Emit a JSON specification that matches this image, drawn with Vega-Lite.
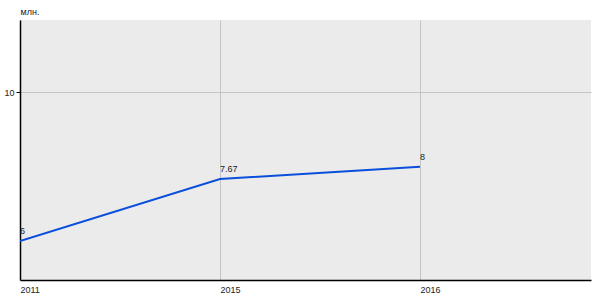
{
  "$schema": "https://vega.github.io/schema/vega-lite/v6.json",
  "width": 571,
  "height": 260,
  "autosize": {"type": "none"},
  "padding": {"left": 20, "top": 20, "right": 9, "bottom": 20},
  "background": "white",
  "config": {
    "font": "Liberation Sans",
    "view": {"fill": "#ebebeb", "stroke": null}
  },
  "data": {
    "values": [
      {"year": "2011", "value": 6, "label": "6"},
      {"year": "2015", "value": 7.67, "label": "7.67"},
      {"year": "2016", "value": 8, "label": "8"}
    ]
  },
  "encoding": {
    "x": {
      "field": "year",
      "type": "ordinal",
      "scale": {"type": "point", "padding": 0.4275, "align": 0},
      "axis": {
        "title": null,
        "labelAngle": 0,
        "labelAlign": "left",
        "labelFontSize": 9,
        "labelColor": "#222",
        "labelPadding": 5,
        "ticks": false,
        "grid": true,
        "gridColor": "#c4c4c4",
        "domainColor": "#000",
        "domainWidth": 1.5
      }
    },
    "y": {
      "field": "value",
      "type": "quantitative",
      "scale": {"domain": [4.95, 11.95], "nice": false, "zero": false},
      "axis": {
        "values": [10],
        "title": "млн.",
        "titleAngle": 0,
        "titleAlign": "left",
        "titleBaseline": "bottom",
        "titleX": 0,
        "titleY": -4,
        "titleFontSize": 9,
        "titleFontWeight": "normal",
        "titleColor": "#222",
        "labelFontSize": 9,
        "labelColor": "#222",
        "labelPadding": 2,
        "tickSize": 4,
        "tickColor": "#000",
        "grid": true,
        "gridColor": "#c4c4c4",
        "domainColor": "#000",
        "domainWidth": 1.5
      }
    }
  },
  "layer": [
    {
      "mark": {"type": "line", "color": "#0a4fdc", "strokeWidth": 2, "clip": true}
    },
    {
      "mark": {"type": "text", "align": "left", "baseline": "bottom", "dx": 0, "dy": -5, "fontSize": 9, "color": "#222"},
      "encoding": {"text": {"field": "label"}}
    }
  ]
}
